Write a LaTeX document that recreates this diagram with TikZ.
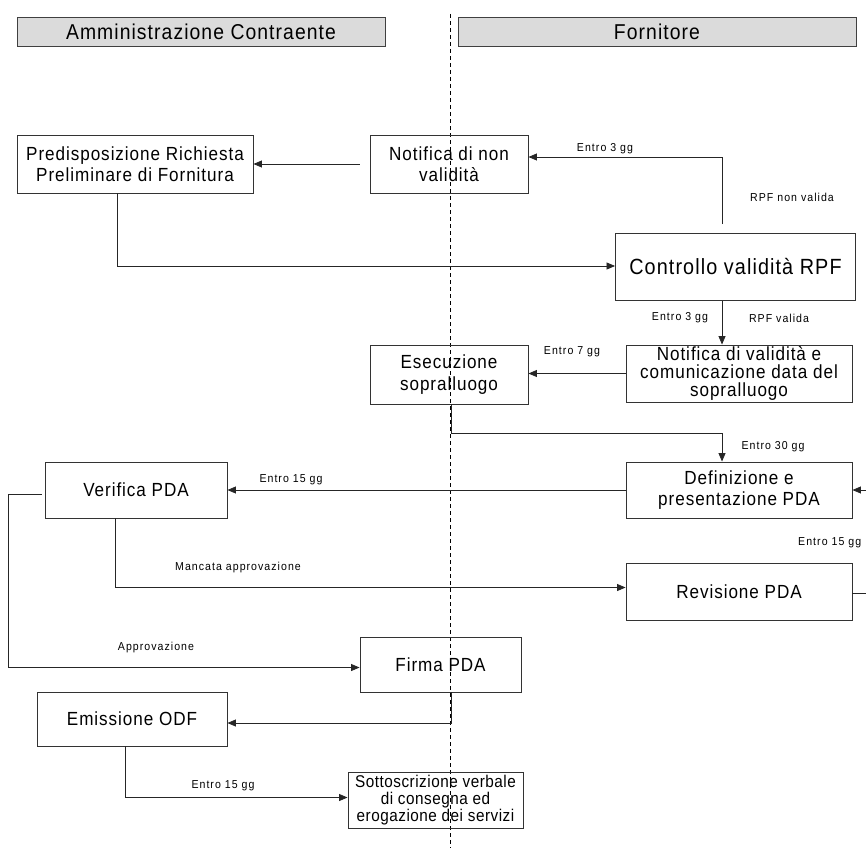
\documentclass[tikz,border=0pt]{standalone}
\usepackage{fontspec}
\setmainfont{Liberation Sans}
\newfontfamily\boxfont[LetterSpace=5,FakeStretch=0.9]{Liberation Sans}
\newfontfamily\smallboxfont[LetterSpace=3,FakeStretch=0.9]{Liberation Sans}
\newfontfamily\lblfont[LetterSpace=9,FakeStretch=0.92]{Liberation Sans}
\usetikzlibrary{arrows.meta}
\tikzset{
  proc/.style={draw=black!80, line width=0.9pt, align=center, inner sep=0pt,
    font=\boxfont\fontsize{19}{21.5}\selectfont},
  hdr/.style={draw=black!75, fill=black!14, line width=0.9pt, inner sep=0pt,
    font=\boxfont\fontsize{21.5}{24}\selectfont},
  lbl/.style={font=\lblfont\fontsize{11.5}{13}\selectfont, inner sep=0pt},
  arr/.style={draw=black!85, line width=0.8pt, -{Triangle[length=8.5pt,width=7pt]}},
  lane/.style={draw=black, dash pattern=on 4pt off 3pt, line width=0.8pt}
}
\begin{document}
\begin{tikzpicture}[x=1pt,y=-1pt]
\useasboundingbox (0,0) rectangle (866,848);
% swimlane headers
\node[hdr, minimum width=368pt, minimum height=29pt] (hA) at (201,31.5) {Amministrazione Contraente};
\node[hdr, minimum width=398pt, minimum height=29pt] (hF) at (657,31.5) {Fornitore};
\coordinate (laneTop) at (450,14);
\coordinate (laneBot) at (450,848);
\draw[lane] (laneTop) -- (laneBot);
% process boxes
\node[proc, minimum width=236pt, minimum height=58pt] (pred) at (135,164) {Predisposizione Richiesta\\Preliminare di Fornitura};
\node[proc, minimum width=158pt, minimum height=58pt] (nnv) at (449,164) {Notifica di non\\validità};
\node[proc, minimum width=240pt, minimum height=67pt, font=\boxfont\fontsize{22}{24}\selectfont] (ctrl) at (735.5,267) {Controllo validità RPF};
\node[proc, minimum width=226pt, minimum height=57pt, font=\boxfont\fontsize{19}{18}\selectfont] (nv) at (739,373.5) {Notifica di validità e\\comunicazione data del\\sopralluogo};
\node[proc, minimum width=158pt, minimum height=59pt] (es) at (449,374.5) {Esecuzione\\sopralluogo};
\node[proc, minimum width=226pt, minimum height=56pt] (def) at (739,490) {Definizione e\\presentazione PDA};
\node[proc, minimum width=182pt, minimum height=56pt] (ver) at (136,490) {Verifica PDA};
\node[proc, minimum width=226pt, minimum height=57pt] (rev) at (739,591.5) {Revisione PDA};
\node[proc, minimum width=161pt, minimum height=55pt] (fir) at (440.5,664.5) {Firma PDA};
\node[proc, minimum width=190pt, minimum height=54pt] (emi) at (132,719) {Emissione ODF};
\node[proc, minimum width=175pt, minimum height=56pt, font=\smallboxfont\fontsize{17}{17}\selectfont] (sot) at (435.5,800.5) {Sottoscrizione verbale\\di consegna ed\\erogazione dei servizi};
% helper coordinates
\coordinate (ctrlUp) at (722,224);
\coordinate (farR) at (874,0);
\coordinate (farL) at (8,0);
% connectors
\draw[arr] ([xshift=-10pt]nnv.west) -- (pred.east);
\draw[arr] (ctrlUp) |- ([yshift=7pt]nnv.east);
\draw[arr] ([xshift=-18pt]pred.south) |- ([yshift=1pt]ctrl.west);
\draw[arr] (ctrl.south -| ctrlUp) -- (nv.north -| ctrlUp);
\draw[arr] (nv.west) -- (nv.west -| es.east);
\draw[arr] ([xshift=2pt]es.south) -- ++(0,29) -| ([xshift=-17pt]def.north);
\draw[arr] (def.west) -- (ver.east);
\draw[arr] ([xshift=-21pt]ver.south) |- ([yshift=4pt]rev.west);
\draw[arr] ([yshift=-1.5pt]rev.east) -- ([yshift=-1.5pt]rev.east -| farR) |- (def.east);
\draw[arr] ([xshift=-3pt,yshift=-4pt]ver.west) -- ([yshift=-4pt]ver.west -| farL) |- ([yshift=-3pt]fir.west);
\draw[arr] ([xshift=10.5pt]fir.south) |- ([yshift=-4pt]emi.east);
\draw[arr] ([xshift=-7pt]emi.south) |- ([yshift=3pt]sot.west);
% labels
\node[lbl] (l1) at (605,149) {Entro 3 gg};
\node[lbl] (l2) at (792,197) {RPF non valida};
\node[lbl] (l3) at (680,318) {Entro 3 gg};
\node[lbl] (l4) at (779,318) {RPF valida};
\node[lbl] (l5) at (572,352) {Entro 7 gg};
\node[lbl] (l6) at (773,447) {Entro 30 gg};
\node[lbl] (l7) at (291,480) {Entro 15 gg};
\node[lbl, anchor=west] (l8) at (798,543) {Entro 15 gg};
\node[lbl] (l9) at (238,568) {Mancata approvazione};
\node[lbl] (l10) at (156,648) {Approvazione};
\node[lbl] (l11) at (223,786) {Entro 15 gg};
\end{tikzpicture}
\end{document}
